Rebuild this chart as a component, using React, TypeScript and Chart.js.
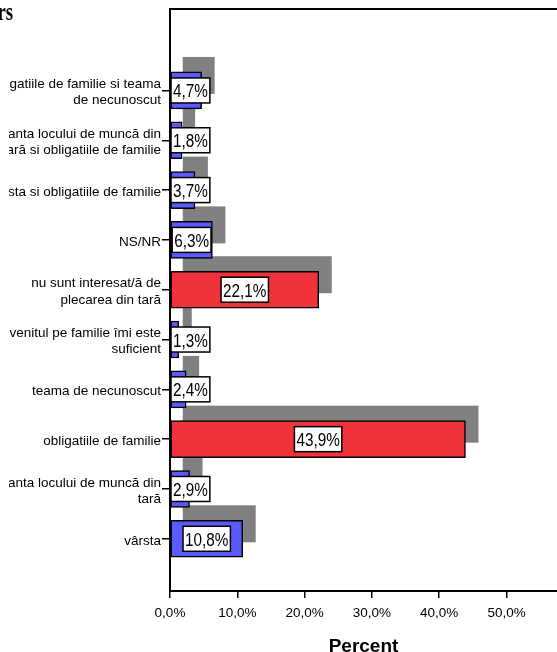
import { useEffect, useRef } from 'react';
import { Chart, registerables } from 'chart.js';

Chart.register(...registerables);

const categories: string[][] = [
  ['obligatiile de familie si teama', 'de necunoscut'],
  ['siguranta locului de muncă din', 'tară si obligatiile de familie'],
  ['vârsta si obligatiile de familie'],
  ['NS/NR'],
  ['nu sunt interesat/ă de', 'plecarea din tară'],
  ['venitul pe familie îmi este', 'suficient'],
  ['teama de necunoscut'],
  ['obligatiile de familie'],
  ['siguranta locului de muncă din', 'tară'],
  ['vârsta'],
];
const percents: number[] = [4.7, 1.8, 3.7, 6.3, 22.1, 1.3, 2.4, 43.9, 2.9, 10.8];
const xTicks: number[] = [0, 10, 20, 30, 40, 50];
const xMax = 57.5;
const axisTitle = 'Percent';
const cornerText = 'rs';

const FAMILY = '"Liberation Sans", Arial, sans-serif';
const BLUE = '#5a5aff';
const RED = '#f0323a';
const SHADOW = '#808080';

const fmt = (v: number) => v.toFixed(1).replace('.', ',') + '%';

const shadowPlugin = {
  id: 'barShadow',
  beforeDatasetsDraw(chart: any) {
    const ctx = chart.ctx;
    const meta = chart.getDatasetMeta(0);
    ctx.save();
    ctx.fillStyle = SHADOW;
    meta.data.forEach((bar: any) => {
      const { x, y, base, height } = bar.getProps(['x', 'y', 'base', 'height'], true);
      const left = Math.min(x, base);
      const w = Math.abs(x - base);
      ctx.fillRect(left + 12, y - height / 2 - 15, w + 1, height);
    });
    ctx.restore();
  },
};

const labelPlugin = {
  id: 'boxLabels',
  afterDatasetsDraw(chart: any) {
    const ctx = chart.ctx;
    const area = chart.chartArea;
    const meta = chart.getDatasetMeta(0);
    const sx = 0.85;
    meta.data.forEach((bar: any, i: number) => {
      const { x, y, base } = bar.getProps(['x', 'y', 'base'], true);
      const text = fmt(percents[i]);
      ctx.save();
      ctx.font = '18px ' + FAMILY;
      const tw = ctx.measureText(text).width * sx;
      const bw = tw + 4;
      const bh = 25;
      let bx = (x + base) / 2 - bw / 2;
      if (bx < area.left + 1) bx = area.left + 1;
      const by = y - bh / 2;
      ctx.fillStyle = '#ffffff';
      ctx.fillRect(bx, by, bw, bh);
      ctx.lineWidth = 1.5;
      ctx.strokeStyle = '#000000';
      ctx.strokeRect(bx, by, bw, bh);
      ctx.translate(bx + bw / 2, y + 7);
      ctx.scale(sx, 1);
      ctx.textAlign = 'center';
      ctx.textBaseline = 'alphabetic';
      ctx.fillStyle = '#000000';
      ctx.fillText(text, 0, 0);
      ctx.restore();
    });
  },
};

const framePlugin = {
  id: 'frame',
  afterDraw(chart: any) {
    const ctx = chart.ctx;
    const area = chart.chartArea;
    ctx.save();
    // clip of category labels on the left edge
    ctx.fillStyle = '#ffffff';
    ctx.fillRect(0, area.top + 20, 9, area.bottom - area.top);
    // top border of plot frame
    ctx.strokeStyle = '#000000';
    ctx.lineWidth = 2;
    ctx.beginPath();
    ctx.moveTo(area.left, area.top);
    ctx.lineTo(area.right, area.top);
    ctx.stroke();
    // fragment of heading at top-left
    ctx.translate(13, 20);
    ctx.scale(0.75, 1);
    ctx.font = 'bold 25px "Liberation Serif", "Times New Roman", serif';
    ctx.textAlign = 'right';
    ctx.textBaseline = 'alphabetic';
    ctx.fillStyle = '#000000';
    ctx.fillText(cornerText, 0, 0);
    ctx.restore();
  },
};

export default function App() {
  const ref = useRef<HTMLCanvasElement>(null);

  useEffect(() => {
    const canvas = ref.current;
    if (!canvas) return;
    const chart = new Chart(canvas, {
      type: 'bar',
      data: {
        labels: categories.map((c) => c.join(' ')),
        datasets: [
          {
            data: percents.map((v, i) => ({ x: v, y: i })) as any,
            backgroundColor: percents.map((v) => (v > 20 ? RED : BLUE)),
            borderColor: '#000000',
            borderWidth: 1.5,
            borderSkipped: false,
            barThickness: 37,
          },
        ],
      },
      options: {
        indexAxis: 'y',
        responsive: false,
        animation: false,
        devicePixelRatio: 1,
        layout: { padding: { top: 8, left: 0, right: 0, bottom: 0 } },
        plugins: {
          legend: { display: false },
          tooltip: { enabled: false },
          title: { display: false },
        },
        scales: {
          x: {
            type: 'linear',
            position: 'bottom',
            min: 0,
            max: xMax,
            bounds: 'data',
            offset: false,
            afterBuildTicks: (s: any) => {
              s.ticks = xTicks.map((v) => ({ value: v }));
            },
            afterFit: (s: any) => {
              s.height = 61;
            },
            grid: {
              drawOnChartArea: false,
              drawTicks: true,
              tickLength: 7,
              lineWidth: 1.5,
              color: '#000000',
              offset: false,
            },
            border: { display: true, color: '#000000', width: 2 },
            ticks: {
              color: '#000000',
              font: { family: FAMILY, size: 13.5 },
              padding: 7,
              maxRotation: 0,
              autoSkip: false,
              callback: (v: any) => fmt(Number(v)),
            },
            title: {
              display: true,
              text: axisTitle,
              color: '#000000',
              font: { family: FAMILY, size: 19, weight: 'bold', lineHeight: 1 },
              padding: { top: 0, bottom: -4 },
            },
          },
          y: {
            type: 'linear',
            reverse: true,
            min: -1.633,
            max: 10.048,
            bounds: 'data',
            offset: false,
            afterBuildTicks: (s: any) => {
              s.ticks = categories.map((_, i) => ({ value: i }));
            },
            afterFit: (s: any) => {
              s.width = 170;
            },
            grid: {
              drawOnChartArea: false,
              drawTicks: true,
              tickLength: 8,
              lineWidth: 1.5,
              color: '#000000',
              offset: false,
            },
            border: { display: true, color: '#000000', width: 2 },
            ticks: {
              color: '#000000',
              font: { family: FAMILY, size: 13.5, lineHeight: 1.2 },
              padding: 1,
              autoSkip: false,
              labelOffset: 2,
              callback: (v: any) => categories[Number(v)] ?? '',
            },
          },
        },
      } as any,
      plugins: [shadowPlugin, labelPlugin, framePlugin],
    });
    return () => chart.destroy();
  }, []);

  return (
    <div style={{ position: 'absolute', left: 0, top: 0, width: 557, height: 652, background: '#ffffff' }}>
      <canvas ref={ref} width={557} height={652} style={{ display: 'block' }} />
    </div>
  );
}
